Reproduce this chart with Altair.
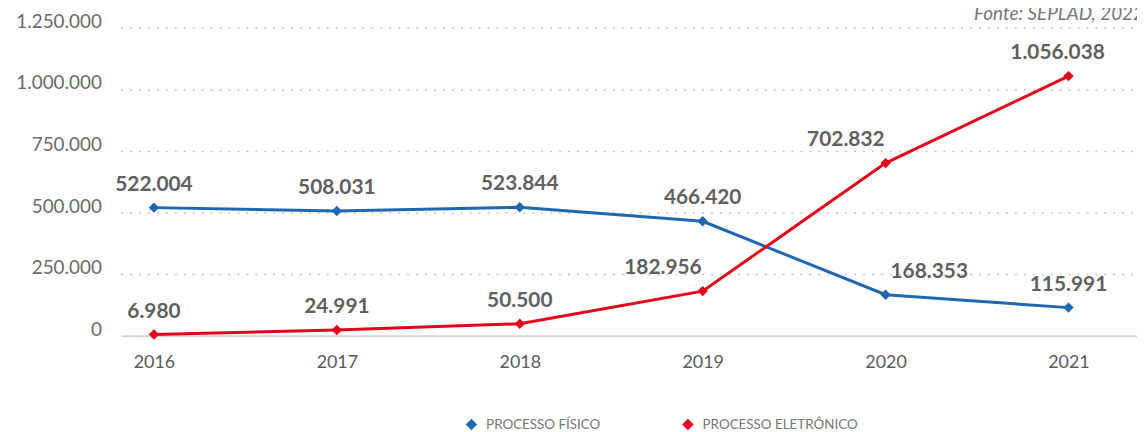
import altair as alt
import pandas as pd

years = ["2016", "2017", "2018", "2019", "2020", "2021"]
fisico = [522004, 508031, 523844, 466420, 168353, 115991]
eletronico = [6980, 24991, 50500, 182956, 702832, 1056038]
series = ["PROCESSO FÍSICO", "PROCESSO ELETRÔNICO"]
colors = ["#1f67b1", "#e3051b"]
y_ticks = [0, 250000, 500000, 750000, 1000000, 1250000]
source_note = "Fonte: SEPLAD, 2022"

rows = []
for s, vals in zip(series, [fisico, eletronico]):
    for yr, v in zip(years, vals):
        rows.append({"ano": yr, "valor": v, "serie": s,
                     "rotulo": f"{v:,}".replace(",", ".")})
df = pd.DataFrame(rows)
ticks_df = pd.DataFrame({"valor": y_ticks})

FONT = "Lato"
W, H = 1023, 310

x = alt.X("ano:O", scale=alt.Scale(type="point", range=[33, 954], padding=0),
          axis=alt.Axis(title=None, labelAngle=0, ticks=False, grid=False, domain=False,
                        labelFontSize=18, labelColor="#5a5a5a", labelFont=FONT,
                        labelPadding=18))
yscale = alt.Scale(domain=[0, 1250000], nice=False)
y = alt.Y("valor:Q", scale=yscale,
          axis=alt.Axis(title=None, values=y_ticks, domain=False, ticks=False,
                        grid=False,
                        labelFontSize=19, labelColor="#6a6a6a", labelFont=FONT,
                        labelPadding=20, labelOffset=-7,
                        labelExpr="replace(format(datum.value, ',d'), regexp(',', 'g'), '.')"))
color = alt.Color("serie:N", scale=alt.Scale(domain=series, range=colors),
                  legend=alt.Legend(title=None, orient="none", legendX=346, legendY=392,
                                    direction="horizontal", symbolType="diamond",
                                    symbolSize=90, labelFontSize=13.5, labelColor="#777777",
                                    labelFont=FONT, columnPadding=80, labelOffset=8))

grid = alt.Chart(ticks_df).transform_filter("datum.valor > 0").mark_rule(
    strokeDash=[2, 7], color="#c4c4c4", strokeWidth=1.5).encode(
    y=y, x=alt.value(0), x2=alt.value(W))
baseline = alt.Chart(ticks_df).transform_filter("datum.valor == 0").mark_rule(
    color="#d4d4d4", strokeWidth=2).encode(
    y=y, x=alt.value(0), x2=alt.value(W))

base = alt.Chart(df)
lines = base.mark_line(strokeWidth=3).encode(x=x, y=y, color=color, detail="serie:N")
points = base.mark_point(shape="diamond", filled=True, size=110, opacity=1).encode(
    x=x, y=y, color=color)

def labels(filter_expr, dx):
    return base.transform_filter(filter_expr).mark_text(
        font=FONT, fontWeight="bold", fontSize=21, color="#606060",
        dy=-23, dx=dx).encode(x=x, y=y, text="rotulo:N")

lab_default = labels("!((datum.serie == 'PROCESSO ELETRÔNICO' && (datum.ano == '2019' || datum.ano == '2020' || datum.ano == '2021')) || (datum.serie == 'PROCESSO FÍSICO' && datum.ano == '2020'))", 0)
lab_e1920 = labels("datum.serie == 'PROCESSO ELETRÔNICO' && (datum.ano == '2019' || datum.ano == '2020')", -40)
lab_e21 = labels("datum.serie == 'PROCESSO ELETRÔNICO' && datum.ano == '2021'", -11)
lab_f20 = labels("datum.serie == 'PROCESSO FÍSICO' && datum.ano == '2020'", 44)

note = alt.Chart(pd.DataFrame({"t": [source_note]})).mark_text(
    font=FONT, fontStyle="italic", fontSize=19, color="#777777", align="right",
    baseline="alphabetic").encode(x=alt.value(1030), y=alt.value(-8), text="t:N")

chart = alt.layer(grid, baseline, lines, points, lab_default, lab_e1920, lab_e21,
                  lab_f20, note).properties(
    width=W, height=H,
    autosize=alt.AutoSizeParams(type="none"),
    padding={"left": 114, "top": 19, "right": 0, "bottom": 95},
).configure_view(stroke=None)

chart.save("out.html", embed_options={"renderer": "svg", "actions": False})
